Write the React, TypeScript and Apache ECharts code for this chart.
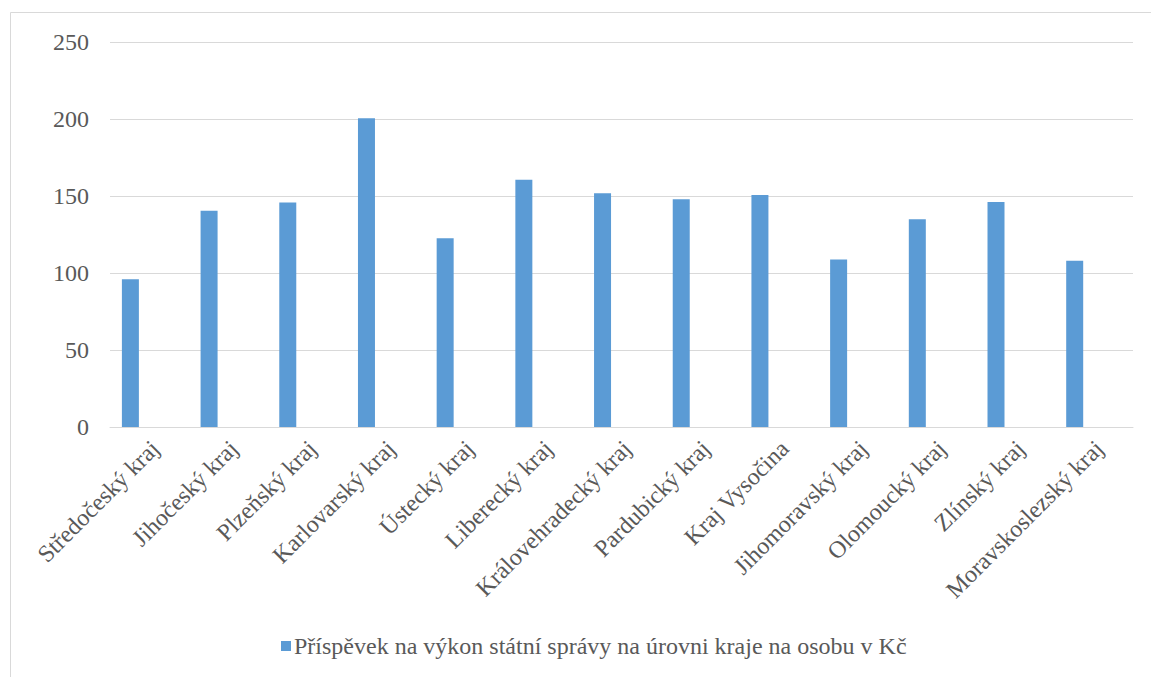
import React, { useEffect, useRef } from "react";
import * as echarts from "echarts";

const categories = [
  "Středočeský kraj",
  "Jihočeský kraj",
  "Plzeňský kraj",
  "Karlovarský kraj",
  "Ústecký kraj",
  "Liberecký kraj",
  "Královehradecký kraj",
  "Pardubický kraj",
  "Kraj Vysočina",
  "Jihomoravský kraj",
  "Olomoucký kraj",
  "Zlínský kraj",
  "Moravskoslezský kraj",
];

const values = [96, 140.5, 145.7, 200.5, 122.5, 160.6, 151.8, 147.9, 150.6, 108.7, 134.9, 146.1, 108];

const seriesName = "Příspěvek na výkon státní správy na úrovni kraje na osobu v Kč";

const FONT = "'Liberation Serif', 'Times New Roman', serif";

export default function App() {
  const ref = useRef<HTMLDivElement>(null);

  useEffect(() => {
    document.body.style.margin = "0";
    if (!ref.current) return;
    const chart = echarts.init(ref.current, null, { renderer: "svg" });
    chart.setOption({
      animation: false,
      backgroundColor: "#ffffff",
      textStyle: { fontFamily: FONT },
      graphic: [
        {
          type: "rect",
          shape: { x: 10.5, y: 12.5, width: 1300, height: 800 },
          style: { fill: "none", stroke: "#D9D9D9", lineWidth: 1 },
          silent: true,
        },
      ],
      grid: { left: 110, right: 18, top: 42, bottom: 250, containLabel: false },
      legend: {
        data: [seriesName],
        bottom: 14,
        left: 276,
        icon: "rect",
        itemWidth: 10,
        itemHeight: 10,
        itemGap: 3,
        textStyle: { fontFamily: FONT, fontSize: 24, color: "#595959", padding: [0, 0, 0, -2] },
      },
      xAxis: {
        type: "category",
        data: categories,
        axisLine: { lineStyle: { color: "#D9D9D9", width: 1 } },
        axisTick: { show: false },
        axisLabel: {
          interval: 0,
          rotate: 45,
          margin: 12,
          verticalAlign: "top",
          lineHeight: 16,
          fontFamily: FONT,
          fontSize: 24,
          color: "#595959",
        },
      },
      yAxis: {
        type: "value",
        min: 0,
        max: 250,
        interval: 50,
        axisLine: { show: false },
        axisTick: { show: false },
        splitLine: { lineStyle: { color: "#D9D9D9", width: 1 } },
        axisLabel: {
          margin: 21,
          fontFamily: FONT,
          fontSize: 24,
          color: "#595959",
        },
      },
      series: [
        {
          name: seriesName,
          type: "bar",
          data: values,
          barWidth: 17,
          barGap: "123%",
          itemStyle: { color: "#5B9BD5" },
        },
        {
          name: "empty",
          type: "bar",
          data: values.map(() => null),
          barWidth: 17,
          itemStyle: { color: "#ED7D31" },
        },
      ],
    });
    return () => chart.dispose();
  }, []);

  return <div ref={ref} style={{ width: 1151, height: 677 }} />;
}
